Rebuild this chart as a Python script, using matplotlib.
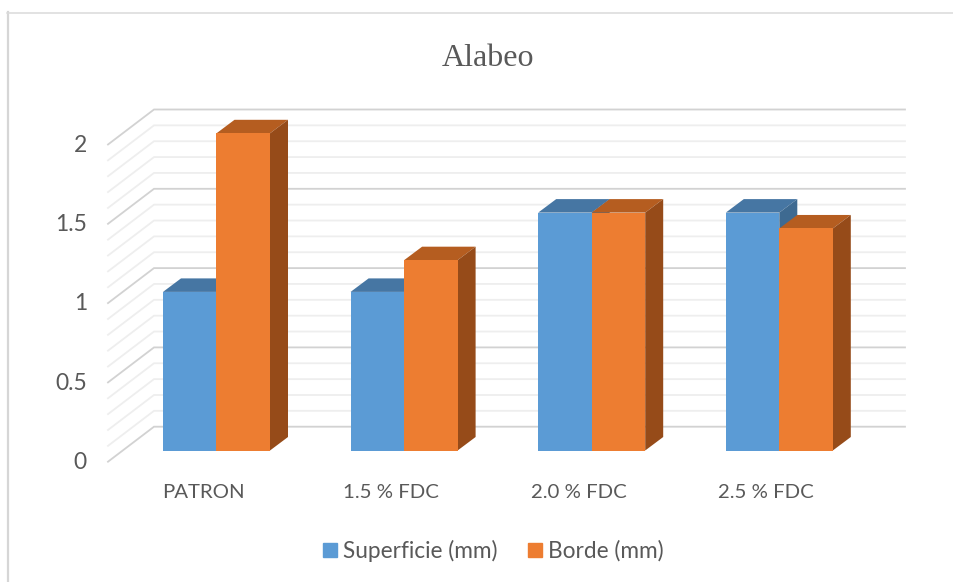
import matplotlib
matplotlib.use("Agg")
import matplotlib.pyplot as plt
from matplotlib.patches import Patch, Polygon

categories = ["PATRON", "1.5 % FDC", "2.0 % FDC", "2.5 % FDC"]
superficie = [1.0, 1.0, 1.5, 1.5]
borde = [2.0, 1.2, 1.5, 1.4]
y_ticks = [0, 0.5, 1, 1.5, 2]
grid_values = [i / 10 for i in range(21)]

BLUE, BLUE_TOP, BLUE_SIDE = "#5b9bd5", "#4676a3", "#3e6a91"
ORANGE, ORANGE_TOP, ORANGE_SIDE = "#ed7d31", "#b55d20", "#964b19"
TEXT = "#595959"

# scale of the data axes, in pixels
W, H = 954, 582
PX_X, PX_Y = 187.6, 158.6
X0, Y0 = 216.5, 450.5

BAR_W = 53.5 / PX_X
DX, DY = 18 / PX_X, 13.5 / PX_Y


def bar_3d(ax, left, value, face, top, side, z):
    ax.bar(left, value, width=BAR_W, align="edge", color=face, zorder=z + 0.2)
    right = left + BAR_W
    ax.add_patch(Polygon(
        [(left, value), (right, value), (right + DX, value + DY), (left + DX, value + DY)],
        color=top, lw=0, zorder=z))
    ax.add_patch(Polygon(
        [(right, 0), (right + DX, DY), (right + DX, value + DY), (right, value)],
        color=side, lw=0, zorder=z + 0.1))


fig = plt.figure(figsize=(W / 100, H / 100), dpi=100)
ax = fig.add_axes([0, 0, 1, 1])
ax.set_xlim(-X0 / PX_X, (W - X0) / PX_X)
ax.set_ylim((Y0 - H) / PX_Y, Y0 / PX_Y)
ax.axis("off")

# chart border, only left and top show in the reference
ax.plot([8 / W, 8 / W], [0, 1 - 12 / H], transform=ax.transAxes, color="#d6d6d6", lw=1.6, zorder=0)
ax.plot([7 / W, 1], [1 - 12.5 / H, 1 - 12.5 / H], transform=ax.transAxes,
        color="#dadada", lw=1.1, zorder=0)

# wall and floor gridlines
x_front, x_back, x_right = (108 - X0) / PX_X, (154 - X0) / PX_X, (905 - X0) / PX_X
y_front, y_back = (Y0 - 461.7) / PX_Y, (Y0 - 426.7) / PX_Y
for g in grid_values:
    major = abs(g * 2 - round(g * 2)) < 1e-9
    ax.plot([x_front, x_back, x_right], [g + y_front, g + y_back, g + y_back],
            color="#d2d2d2" if major else "#eeeeee", lw=1.3, zorder=1,
            solid_joinstyle="miter")

for i in range(len(categories)):
    z = 2 + i
    bar_3d(ax, i - BAR_W, superficie[i], BLUE, BLUE_TOP, BLUE_SIDE, z)
    bar_3d(ax, i, borde[i], ORANGE, ORANGE_TOP, ORANGE_SIDE, z + 0.5)
    ax.text(i - 0.07, (Y0 - 492) / PX_Y, categories[i], ha="center", va="center",
            family="Lato", fontsize=14.7, color=TEXT)

for t in y_ticks:
    ax.text((87 - X0) / PX_X, t - 12 / PX_Y, f"{t:g}", ha="right", va="center",
            family="Lato", fontsize=16.5, color=TEXT)

ax.text(0.512, 1 - 58 / H, "Alabeo", transform=ax.transAxes, ha="center", va="center",
        family="Liberation Serif", fontsize=23, color=TEXT)

handles = [Patch(color=BLUE, label="Superficie (mm)"), Patch(color=ORANGE, label="Borde (mm)")]
ax.legend(handles=handles, loc="center", bbox_to_anchor=(493 / W, 1 - 551 / H),
          ncol=2, frameon=False, labelcolor=TEXT, handlelength=0.62, handleheight=0.62,
          handletextpad=0.27, columnspacing=1.35, borderpad=0,
          prop={"family": "Lato", "size": 16.3})

fig.savefig("out.png", dpi=100)
